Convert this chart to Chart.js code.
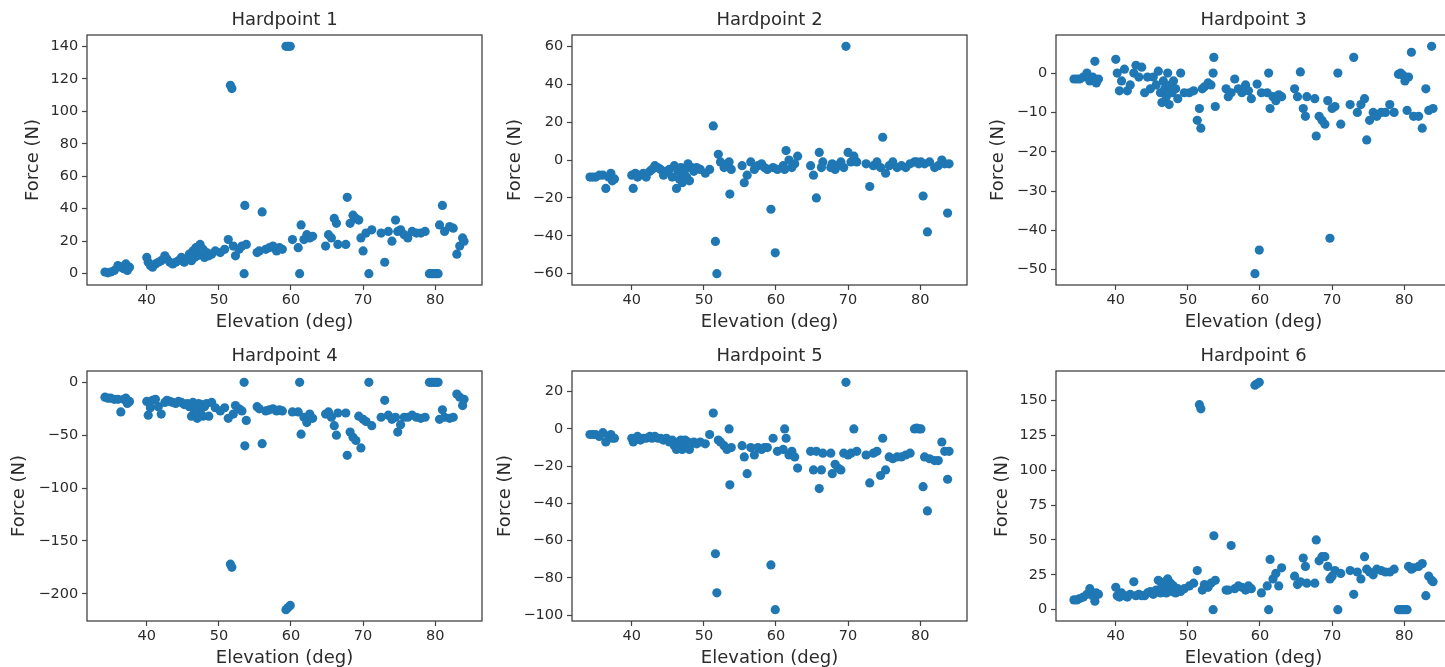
<!DOCTYPE html>
<html>
<head>
<meta charset="utf-8">
<title>Hardpoint forces vs elevation</title>
<script src="https://cdn.jsdelivr.net/npm/chart.js@4.4.1/dist/chart.umd.min.js"></script>
<style>
  html, body { margin: 0; padding: 0; background: #fff; overflow: hidden; }
  #wrap { position: relative; width: 1445px; height: 667px; overflow: hidden; }
  #wrap canvas { position: absolute; }
</style>
</head>
<body>
<div id="wrap"></div>
<script>
// shared x values (deg), grouped by runs of the sweep
const elevation = [
  34.2, 34.6, 35.0, 35.5, 36.0, 36.4, 36.8, 37.1, 37.3, 37.6,
  40.0, 40.2, 40.5, 40.8, 41.2, 41.6, 42.0, 42.5, 42.8, 43.2, 43.6, 44.0, 44.4, 44.8, 45.2, 45.6,
  45.9, 46.2, 46.4, 46.6, 46.8, 47.0, 47.2, 47.4, 47.6, 47.8, 48.0, 48.3, 48.6, 49.0, 49.5,
  50.2, 50.8, 51.3, 51.6, 51.8, 52.0, 52.3, 52.8, 53.2, 53.5, 53.6, 53.8,
  55.3, 55.6, 56.0, 56.5, 57.0, 57.5, 58.0, 58.4, 58.8, 59.3, 59.6, 59.9, 60.2,
  61.0, 61.2, 61.4, 61.8, 62.2, 62.6, 63.0,
  64.8, 65.2, 65.6, 66.0, 66.3, 66.5,
  67.6, 67.8, 68.2, 68.6, 69.0, 69.4, 69.7, 70.0, 70.4, 70.8, 71.2,
  72.5, 73.0, 73.5, 74.0, 74.5, 74.8, 75.2, 75.7,
  76.2, 76.8, 77.4, 78.0, 78.6,
  79.2, 79.5, 79.8, 80.1, 80.4, 80.6, 81.0, 81.3,
  82.0, 82.5, 83.0, 83.4, 83.8, 84.0
];

const hp1 = [
  1, 0.5, 1, 2, 5, 4, 3, 6, 2, 4,
  10, 7, 5, 4, 6, 7, 8, 11, 9, 7, 6, 7, 8, 10, 7, 9,
  12, 8, 14, 10, 16, 11, 13, 18, 12, 15, 10, 13, 11, 12, 14,
  13, 15, 21, 116, 114, 17, 11, 15, 17, 0, 42, 18,
  13, 14, 38, 15, 16, 17, 14, 16, 15, 140, 140, 140, 21,
  16, 0, 30, 21, 24, 22, 23,
  17, 24, 22, 34, 31, 18,
  18, 47, 31, 36, 34, 33, 22, 14, 25, 0, 27,
  25, 7, 26, 20, 33, 26, 27, 24,
  22, 26, 25, 25, 26,
  0, 0, 0, 0, 0, 30, 42, 26,
  29, 28, 12, 17, 22, 20
];

const hp2 = [
  -9, -9, -9, -8, -8, -15, -9, -7, -11, -10,
  -8, -15, -7, -9, -8, -7, -9, -6, -5, -3, -4, -5, -8, -6, -5, -9,
  -3, -15, -6, -10, -4, -12, -7, -5, -9, -2, -11, -4, -6, -4, -5,
  -7, -5, 18, -43, -60, 3, -1, -4, -2, -1, -18, -5,
  -3, -12, -8, -1, -5, -3, -2, -4, -5, -26, -4, -49, -5,
  -3, -5, 5, 0, -4, -2, 2,
  -3, -8, -20, 4, -4, -1,
  -4, -2, -5, -3, -1, -4, 60, 4, -1, 2, -1,
  -2, -14, -3, -1, -4, 12, -7, -3,
  -1, -4, -3, -4, -2,
  -1, -1, -2, -1, -19, -2, -38, -1,
  -4, -3, 0, -2, -28, -2
];

const hp3 = [
  -1.5, -1.5, -1.5, -1, 0, -2, -1, 3, -2.5, -1.5,
  3.5, 0, -4.5, -2, 1, -4.5, -3, 0, 2, -1, 1.5, -5, -1, -4, -1, -3,
  0.5, -5, -7.5, -2, -4, -6, 0, -8, -3, -5, -2, -4, -6.5, 0, -5,
  -5, -4.5, -12, -9, -14, -4, -3.5, -2.5, -3, 0, 4, -8.5,
  -4, -6, -5, -1.5, -4, -5, -3, -4.5, -6.5, -51, -2.8, -45, -5,
  -5, 0, -9, -6, -7, -5.5, -6,
  -4, -6, 0.3, -9, -11, -6,
  -6.5, -16, -11, -12, -13, -7, -42, -9, -8.5, 0, -13,
  -8, 4, -10, -8, -6.5, -17, -12, -10,
  -11, -10, -10, -8, -10,
  -0.3, 0, -0.5, -2, -9.5, -1, 5.3, -11,
  -11, -14, -4, -9.5, 6.8, -9
];

const hp4 = [
  -14, -15, -15, -16, -16, -28, -16, -15, -20, -18,
  -18, -31, -24, -17, -16, -23, -30, -19, -17, -18, -19, -20, -18, -19, -21, -20,
  -23, -32, -19, -26, -22, -34, -20, -27, -21, -32, -23, -20, -32, -19, -24,
  -27, -24, -34, -172, -175, -30, -22, -25, -27, 0, -60, -36,
  -23, -25, -58, -27, -26, -25, -27, -26, -27, -215, -213, -211, -28,
  -28, 0, -49, -33, -38, -30, -34,
  -30, -28, -33, -41, -50, -29,
  -29, -69, -47, -52, -55, -32, -62, -35, -37, 0, -41,
  -33, -17, -31, -35, -33, -47, -40, -33,
  -33, -31, -33, -34, -33,
  0, 0, 0, 0, 0, -35, -26, -33,
  -34, -33, -11, -14, -22, -16
];

const hp5 = [
  -3, -3, -3, -4, -2, -7, -4, -3, -5, -5,
  -5, -7, -6, -4, -6, -5, -5, -4, -5, -4, -5, -5, -6, -5, -7, -6,
  -9, -11, -7, -10, -6, -11, -8, -6, -10, -7, -11, -8, -7, -8, -7,
  -8, -3, 8.5, -67, -88, -6, -7, -9, -11, 0, -30, -10,
  -9, -15, -24, -10, -14, -10, -11, -10, -10, -73, -5, -97, -12,
  -11, 0, -5, -14, -12, -15, -21,
  -12, -22, -12, -32, -22, -13,
  -13, -24, -19, -21, -22, -13, 25, -14, -13, 0, -12,
  -14, -29, -13, -12, -25, -5, -22, -15,
  -16, -15, -15, -14, -13,
  0, 0.5, 0, 0, -31, -15, -44, -16,
  -17, -17, -7, -12, -27, -12
];

const hp6 = [
  7, 7, 8, 9, 11, 15, 10, 6, 12, 11,
  16, 10, 9, 12, 10, 9, 11, 20, 10, 11, 10, 10, 12, 13, 11, 14,
  21, 12, 18, 14, 20, 12, 22, 16, 19, 13, 17, 12, 15, 13, 15,
  17, 19, 28, 147, 144, 14, 18, 16, 19, 0, 53, 21,
  14, 14, 46, 15, 17, 16, 14, 17, 15, 161, 162, 163, 12,
  17, 0, 36, 22, 26, 17, 30,
  24, 18, 20, 37, 31, 19,
  19, 50, 35, 38, 38, 31, 22, 24, 28, 0, 26,
  28, 11, 27, 22, 38, 29, 27, 25,
  29, 28, 27, 27, 29,
  0, 0, 0, 0, 0, 31, 29, 30,
  31, 33, 10, 24, 21, 20
];

const titles = ['Hardpoint 1', 'Hardpoint 2', 'Hardpoint 3', 'Hardpoint 4', 'Hardpoint 5', 'Hardpoint 6'];
const forces = [hp1, hp2, hp3, hp4, hp5, hp6];

const xTicks = [40, 50, 60, 70, 80];
const yTicks = [
  [0, 20, 40, 60, 80, 100, 120, 140],
  [-60, -40, -20, 0, 20, 40, 60],
  [-50, -40, -30, -20, -10, 0],
  [-200, -150, -100, -50, 0],
  [-100, -80, -60, -40, -20, 0, 20],
  [0, 25, 50, 75, 100, 125, 150]
];

// page layout (canvas positions, y label offsets)
const colLeft = [0, 485, 969];
const rowTop = [0, 336];
const yLabelPad = [22.2, 19.5, 18.9, 9, 9.9, 22.2];

const FONT = 'DejaVu Sans';
const TEXT = '#2b2b2b';
const AXIS = '#444';
const DOT = '#1f77b4';

// matplotlib style autoscale: 5% margin around the data
function padRange(arr) {
  let lo = Math.min.apply(null, arr), hi = Math.max.apply(null, arr);
  let m = (hi - lo) * 0.05;
  return [lo - m, hi + m];
}

function fmt(v) {
  return String(v).replace('-', '\u2212');
}

const framePlugin = {
  id: 'frame',
  afterDatasetsDraw(chart) {
    const a = chart.chartArea;
    const ctx = chart.ctx;
    ctx.save();
    ctx.strokeStyle = AXIS;
    ctx.lineWidth = 1.3;
    ctx.strokeRect(a.left, a.top, a.right - a.left, a.bottom - a.top);
    ctx.restore();
  }
};

const xr = padRange(elevation);

for (let p = 0; p < 6; p++) {
  let canvas = document.createElement('canvas');
  canvas.width = 490;
  canvas.height = 335;
  canvas.style.left = colLeft[p % 3] + 'px';
  canvas.style.top = rowTop[Math.floor(p / 3)] + 'px';
  document.getElementById('wrap').appendChild(canvas);

  let yr = padRange(forces[p]);
  let pts = elevation.map((e, i) => ({x: e, y: forces[p][i]}));
  let yt = yTicks[p];

  new Chart(canvas.getContext('2d'), {
    type: 'scatter',
    data: {
      datasets: [{
        data: pts,
        backgroundColor: DOT,
        borderWidth: 0,
        pointRadius: 4.6,
        pointHoverRadius: 4.6
      }]
    },
    options: {
      responsive: false,
      animation: false,
      events: [],
      layout: {padding: {left: 0, right: 8, top: 0, bottom: 0}},
      plugins: {
        legend: {display: false},
        tooltip: {enabled: false},
        title: {
          display: true,
          fullSize: false,   // centre over the plot box, like matplotlib
          text: titles[p],
          color: TEXT,
          font: {family: FONT, size: 18, weight: 'normal'},
          padding: {top: 9.9, bottom: 3.5}
        }
      },
      scales: {
        x: {
          type: 'linear',
          min: xr[0],
          max: xr[1],
          afterBuildTicks: s => { s.ticks = xTicks.map(v => ({value: v})); },
          afterFit: s => { s.height = 50; },
          border: {display: false},
          grid: {display: true, drawOnChartArea: false, tickLength: 5, tickColor: AXIS, tickWidth: 1.2},
          ticks: {autoSkip: false, maxRotation: 0, padding: 2, color: TEXT,
                  font: {family: FONT, size: 14.5}, callback: fmt},
          title: {display: true, text: 'Elevation (deg)', color: TEXT,
                  font: {family: FONT, size: 18}, padding: {top: 0, bottom: 1.5}}
        },
        y: {
          type: 'linear',
          min: yr[0],
          max: yr[1],
          afterBuildTicks: s => { s.ticks = yt.map(v => ({value: v})); },
          afterFit: s => { s.width = 87; },
          border: {display: false},
          grid: {display: true, drawOnChartArea: false, tickLength: 5, tickColor: AXIS, tickWidth: 1.2},
          ticks: {autoSkip: false, padding: 3.7, color: TEXT,
                  font: {family: FONT, size: 14.5}, callback: fmt},
          title: {display: true, text: 'Force (N)', color: TEXT,
                  font: {family: FONT, size: 18}, padding: {top: yLabelPad[p], bottom: 0}}
        }
      }
    },
    plugins: [framePlugin]
  });
}
</script>
</body>
</html>
